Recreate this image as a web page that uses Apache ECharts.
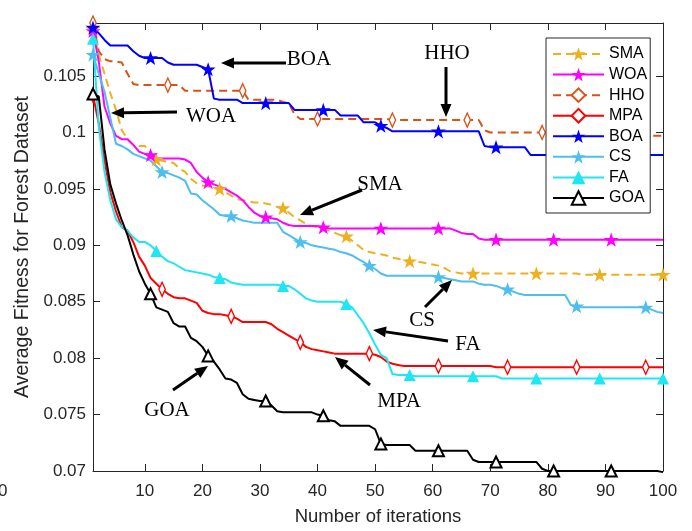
<!DOCTYPE html>
<html><head><meta charset="utf-8">
<script src="https://cdn.jsdelivr.net/npm/echarts@6/dist/echarts.min.js"></script>
<style>html,body{margin:0;padding:0;background:#fff}#c{width:692px;height:531px}</style>
</head><body><div id="c"></div>
<script>
const seriesNames = ['SMA','WOA','HHO','MPA','BOA','CS','FA','GOA'];
const xTicks = [10,20,30,40,50,60,70,80,90,100];
const yTicks = [0.07,0.075,0.08,0.085,0.09,0.095,0.1,0.105];
const yTickLabels = ['0.07','0.075','0.08','0.085','0.09','0.095','0.1','0.105'];

const SMA = [0.1092,0.1069,0.1052,0.1035,0.1020,0.1002,0.0994,0.0989,0.0988,0.0988,
0.0983,0.0976,0.0975,0.0974,0.0973,0.0968,0.0965,0.0959,0.0955,0.0953,
0.0952,0.0951,0.0950,0.0947,0.0944,0.0941,0.0940,0.0939,0.0938,0.0938,
0.0937,0.0936,0.0934,0.0933,0.0929,0.0925,0.0922,0.0919,0.0917,0.0916,
0.0915,0.0913,0.0911,0.0909,0.0908,0.0904,0.0900,0.0896,0.0894,0.0893,
0.0892,0.0891,0.0889,0.0888,0.0887,0.0886,0.0886,0.0885,0.0884,0.0883,
0.0882,0.0880,0.0877,0.0876,0.0875,0.0875,0.0875,0.0875,0.0875,0.0875,
0.0875,0.0875,0.0875,0.0875,0.0875,0.0875,0.0875,0.0875,0.0875,0.0875,
0.0875,0.0875,0.0875,0.0875,0.0875,0.0874,0.0874,0.0874,0.0874,0.0874,
0.0874,0.0874,0.0874,0.0874,0.0874,0.0874,0.0874,0.0874,0.0874,0.0874];

const WOA = [0.1090,0.1063,0.1023,0.1008,0.0997,0.0994,0.0994,0.0989,0.0983,0.0981,
0.0980,0.0977,0.0977,0.0977,0.0977,0.0977,0.0976,0.0973,0.0965,0.0960,
0.0956,0.0954,0.0952,0.0950,0.0947,0.0944,0.0940,0.0934,0.0929,0.0926,
0.0925,0.0924,0.0923,0.0920,0.0918,0.0917,0.0917,0.0917,0.0917,0.0917,
0.0916,0.0915,0.0915,0.0915,0.0915,0.0915,0.0915,0.0915,0.0915,0.0915,
0.0915,0.0915,0.0915,0.0915,0.0915,0.0915,0.0915,0.0915,0.0915,0.0915,
0.0915,0.0915,0.0915,0.0913,0.0911,0.0910,0.0910,0.0906,0.0905,0.0905,
0.0905,0.0905,0.0905,0.0905,0.0905,0.0905,0.0905,0.0905,0.0905,0.0905,
0.0905,0.0905,0.0905,0.0905,0.0905,0.0905,0.0905,0.0905,0.0905,0.0905,
0.0905,0.0905,0.0905,0.0905,0.0905,0.0905,0.0905,0.0905,0.0905,0.0905];

const HHO = [0.1097,0.1072,0.1065,0.1063,0.1063,0.1062,0.1052,0.1043,0.1042,0.1042,
0.1042,0.1042,0.1042,0.1042,0.1042,0.1042,0.1037,0.1037,0.1037,0.1037,
0.1037,0.1037,0.1037,0.1037,0.1037,0.1037,0.1037,0.1029,0.1029,0.1029,
0.1029,0.1029,0.1029,0.1027,0.1026,0.1016,0.1012,0.1012,0.1012,0.1012,
0.1012,0.1012,0.1012,0.1012,0.1012,0.1012,0.1012,0.1012,0.1012,0.1012,
0.1012,0.1012,0.1011,0.1011,0.1011,0.1011,0.1011,0.1011,0.1011,0.1011,
0.1011,0.1011,0.1011,0.1011,0.1011,0.1011,0.1011,0.1011,0.1002,0.1000,
0.1000,0.1000,0.1000,0.1000,0.1000,0.1000,0.1000,0.1000,0.1000,0.1000,
0.1000,0.1000,0.1000,0.1000,0.1000,0.1000,0.1000,0.0998,0.0998,0.0998,
0.0998,0.0998,0.0998,0.0998,0.0998,0.0997,0.0997,0.0997,0.0997,0.0997];

const MPA = [0.1033,0.1008,0.0975,0.0947,0.0930,0.0916,0.0913,0.0903,0.0890,0.0882,
0.0871,0.0866,0.0861,0.0857,0.0854,0.0853,0.0853,0.0851,0.0849,0.0842,
0.0840,0.0839,0.0839,0.0838,0.0837,0.0835,0.0832,0.0832,0.0832,0.0832,
0.0832,0.0830,0.0826,0.0823,0.0820,0.0817,0.0814,0.0810,0.0808,0.0807,
0.0806,0.0805,0.0804,0.0804,0.0804,0.0804,0.0804,0.0804,0.0804,0.0803,
0.0801,0.0797,0.0795,0.0794,0.0793,0.0793,0.0793,0.0793,0.0793,0.0793,
0.0793,0.0793,0.0793,0.0793,0.0793,0.0793,0.0793,0.0793,0.0793,0.0793,
0.0792,0.0792,0.0792,0.0792,0.0792,0.0792,0.0792,0.0792,0.0792,0.0792,
0.0792,0.0792,0.0792,0.0792,0.0792,0.0792,0.0792,0.0792,0.0792,0.0792,
0.0792,0.0792,0.0792,0.0792,0.0792,0.0792,0.0792,0.0792,0.0792,0.0792];

const BOA = [0.1093,0.1088,0.1082,0.1077,0.1077,0.1077,0.1077,0.1072,0.1068,0.1066,
0.1066,0.1066,0.1066,0.1062,0.1060,0.1060,0.1060,0.1060,0.1060,0.1058,
0.1056,0.1030,0.1029,0.1029,0.1029,0.1029,0.1026,0.1026,0.1026,0.1026,
0.1026,0.1026,0.1026,0.1026,0.1026,0.1020,0.1020,0.1020,0.1020,0.1020,
0.1020,0.1020,0.1020,0.1015,0.1015,0.1015,0.1015,0.1009,0.1009,0.1009,
0.1006,0.1004,0.1001,0.1001,0.1001,0.1001,0.1001,0.1001,0.1001,0.1001,
0.1001,0.1001,0.1001,0.1001,0.1001,0.1001,0.1001,0.1001,0.0988,0.0987,
0.0987,0.0987,0.0987,0.0987,0.0987,0.0987,0.0980,0.0980,0.0980,0.0980,
0.0980,0.0980,0.0980,0.0980,0.0980,0.0980,0.0980,0.0980,0.0980,0.0980,
0.0980,0.0980,0.0980,0.0980,0.0980,0.0980,0.0980,0.0980,0.0980,0.0980];

const CS = [0.1069,0.1052,0.1036,0.1013,0.0990,0.0988,0.0985,0.0981,0.0979,0.0977,
0.0975,0.0970,0.0965,0.0964,0.0962,0.0960,0.0957,0.0946,0.0945,0.0940,
0.0936,0.0932,0.0927,0.0926,0.0926,0.0924,0.0922,0.0921,0.0920,0.0920,
0.0920,0.0920,0.0920,0.0912,0.0909,0.0906,0.0903,0.0902,0.0900,0.0899,
0.0898,0.0897,0.0896,0.0894,0.0893,0.0891,0.0888,0.0885,0.0882,0.0879,
0.0875,0.0873,0.0873,0.0873,0.0873,0.0873,0.0873,0.0873,0.0873,0.0873,
0.0872,0.0871,0.0870,0.0869,0.0868,0.0868,0.0868,0.0866,0.0865,0.0865,
0.0864,0.0862,0.0861,0.0859,0.0857,0.0856,0.0856,0.0856,0.0856,0.0856,
0.0856,0.0856,0.0856,0.0847,0.0846,0.0845,0.0845,0.0845,0.0845,0.0845,
0.0845,0.0845,0.0845,0.0845,0.0845,0.0845,0.0845,0.0843,0.0841,0.0840];

const FA = [0.1083,0.1005,0.0965,0.0940,0.0923,0.0916,0.0913,0.0907,0.0903,0.0903,
0.0900,0.0895,0.0890,0.0886,0.0884,0.0881,0.0878,0.0877,0.0876,0.0875,
0.0874,0.0872,0.0871,0.0870,0.0867,0.0866,0.0865,0.0865,0.0865,0.0865,
0.0865,0.0865,0.0865,0.0864,0.0864,0.0861,0.0857,0.0853,0.0851,0.0850,
0.0850,0.0850,0.0850,0.0850,0.0848,0.0845,0.0838,0.0831,0.0822,0.0812,
0.0803,0.0800,0.0786,0.0785,0.0785,0.0785,0.0784,0.0784,0.0784,0.0784,
0.0784,0.0784,0.0784,0.0784,0.0784,0.0784,0.0784,0.0784,0.0784,0.0784,
0.0784,0.0782,0.0782,0.0782,0.0782,0.0782,0.0782,0.0782,0.0782,0.0782,
0.0782,0.0782,0.0782,0.0782,0.0782,0.0782,0.0782,0.0782,0.0782,0.0782,
0.0782,0.0782,0.0782,0.0782,0.0782,0.0782,0.0782,0.0782,0.0782,0.0782];

const GOA = [0.1034,0.1032,0.0985,0.0954,0.0937,0.0922,0.0909,0.0892,0.0877,0.0866,
0.0857,0.0845,0.0843,0.0841,0.0831,0.0828,0.0828,0.0818,0.0815,0.0810,
0.0802,0.0797,0.0790,0.0782,0.0781,0.0778,0.0768,0.0764,0.0763,0.0762,
0.0762,0.0758,0.0753,0.0752,0.0752,0.0752,0.0752,0.0752,0.0752,0.0750,
0.0749,0.0745,0.0744,0.0740,0.0740,0.0740,0.0740,0.0740,0.0740,0.0737,
0.0724,0.0723,0.0723,0.0723,0.0723,0.0723,0.0718,0.0718,0.0718,0.0718,
0.0718,0.0718,0.0718,0.0718,0.0718,0.0718,0.0710,0.0708,0.0708,0.0708,
0.0708,0.0708,0.0708,0.0708,0.0708,0.0708,0.0708,0.0708,0.0702,0.0700,
0.0700,0.0700,0.0700,0.0700,0.0700,0.0700,0.0700,0.0700,0.0700,0.0700,
0.0700,0.0700,0.0700,0.0700,0.0700,0.0700,0.0700,0.0700,0.0700,0.0699];

const markSMA = [1,12,23,34,45,56,67,78,89,100];
const markWOA = [1,11,21,31,41,51,61,71,81,91];
const markHHO = [1,14,27,40,53,66,79,92];
const markMPA = [1,13,25,37,49,61,73,85,97];
const markBOA = [1,11,21,31,41,51,61,71,81,91];
const markCS  = [1,13,25,37,49,61,73,85,97];
const markFA  = [1,12,23,34,45,56,67,78,89,100];
const markGOA = [1,11,21,31,41,51,61,71,81,91];

const STAR = 'path://M12,0L14.94,8.55L24,8.55L16.68,13.9L19.42,22.6L12,17.3L4.58,22.6L7.32,13.9L0,8.55L9.06,8.55Z';
const DIAMOND = 'path://M5,0L10,7L5,14L0,7Z';

function build(values, marks) {
  return values.map((v, k) => {
    const it = k + 1;
    const item = { value: [it, v] };
    if (marks.indexOf(it) < 0) item.symbol = 'none';
    return item;
  });
}

const styles = {
  SMA: { color:'#EDB120', dash:[8,5], symbol:STAR, size:15, fill:'#EDB120', bw:0 },
  WOA: { color:'#FF00FF', dash:'solid', symbol:STAR, size:15, fill:'#FF00FF', bw:0 },
  HHO: { color:'#D95319', dash:[8,5], symbol:DIAMOND, size:[9,14], fill:'#fff', bw:1.5 },
  MPA: { color:'#FF0000', dash:'solid', symbol:DIAMOND, size:[9,14], fill:'#fff', bw:1.5 },
  BOA: { color:'#0000FF', dash:'solid', symbol:STAR, size:15, fill:'#0000FF', bw:0 },
  CS:  { color:'#4DBEEE', dash:'solid', symbol:STAR, size:15, fill:'#4DBEEE', bw:0 },
  FA:  { color:'#1EE6F2', dash:'solid', symbol:'triangle', size:12, fill:'#1EE6F2', bw:0 },
  GOA: { color:'#000000', dash:'solid', symbol:'triangle', size:11, fill:'#fff', bw:2 }
};
const valuesBy = { SMA, WOA, HHO, MPA, BOA, CS, FA, GOA };
const marksBy = { SMA:markSMA, WOA:markWOA, HHO:markHHO, MPA:markMPA, BOA:markBOA, CS:markCS, FA:markFA, GOA:markGOA };

const series = seriesNames.map(n => {
  const s = styles[n];
  return {
    type:'line', name:n, data: build(valuesBy[n], marksBy[n]),
    symbol: s.symbol, symbolSize: s.size, symbolKeepAspect: true, showAllSymbol: true,
    lineStyle: { color: s.color, width: 2, type: s.dash },
    itemStyle: { color: s.fill, borderColor: s.color, borderWidth: s.bw },
    clip: false, silent: true, animation: false,
    emphasis: { disabled: true }
  };
});

const axisCol = '#262626';
function arrow(x1, y1, x2, y2) {
  const dx = x2 - x1, dy = y2 - y1, L = Math.hypot(dx, dy), ux = dx / L, uy = dy / L;
  const hl = 13, hw = 5.5, bx = x2 - ux * hl, by = y2 - uy * hl;
  return [
    { type:'line', z:100, shape:{ x1:x1, y1:y1, x2:bx, y2:by }, style:{ stroke:'#000', lineWidth:3 } },
    { type:'polygon', z:100, shape:{ points:[[x2,y2],[bx - uy*hw, by + ux*hw],[bx + uy*hw, by - ux*hw]] }, style:{ fill:'#000' } }
  ];
}
function label(t, x, y) {
  return { type:'text', z:100, x:x, y:y, style:{ text:t, fill:'#000', fontSize:21, fontFamily:'"Liberation Serif", "DejaVu Serif", serif', align:'center', verticalAlign:'middle' } };
}
const graphics = [].concat(
  [label('BOA', 309, 59)], arrow(286, 63, 221, 63),
  [label('HHO', 447, 53)], arrow(446, 67, 446, 117),
  [label('WOA', 211, 116)], arrow(177, 112, 111, 113),
  [label('SMA', 380, 184)], arrow(362, 190, 300, 215),
  [label('CS', 422, 320)], arrow(425, 307, 452, 280),
  [label('FA', 468, 344)], arrow(448, 341, 373, 330),
  [label('MPA', 399, 401)], arrow(370, 385, 335, 357),
  [label('GOA', 167, 410)], arrow(173, 390, 208, 366),
  [{ type:'text', x:-2, y:491, style:{ text:'0', fill:axisCol, fontSize:17, fontFamily:'"Liberation Sans", Arial, sans-serif', align:'left', verticalAlign:'middle' } }]
);

const chart = echarts.init(document.getElementById('c'), null, { renderer:'canvas' });
const fontSans = '"Liberation Sans", Arial, sans-serif';
chart.setOption({
  backgroundColor:'#fff',
  animation:false,
  grid:{ left:93, right:29, top:23, bottom:58, containLabel:false },
  xAxis:[{
    type:'value', min:1, max:100, position:'bottom',
    name:'Number of iterations', nameLocation:'middle', nameGap:36,
    nameTextStyle:{ fontFamily:fontSans, fontSize:18.5, color:axisCol },
    axisLine:{ show:true, lineStyle:{ color:axisCol, width:1 } },
    axisTick:{ show:true, inside:true, length:7, customValues:xTicks, lineStyle:{ color:axisCol } },
    axisLabel:{ show:true, margin:12, customValues:xTicks, fontFamily:fontSans, fontSize:17, color:axisCol },
    splitLine:{ show:false }
  },{
    type:'value', min:1, max:100, position:'top',
    axisLine:{ show:true, onZero:false, lineStyle:{ color:axisCol, width:1 } },
    axisTick:{ show:true, inside:true, length:7, customValues:xTicks, lineStyle:{ color:axisCol } },
    axisLabel:{ show:false }, splitLine:{ show:false }
  }],
  yAxis:[{
    type:'value', min:0.07, max:0.1097, position:'left',
    name:'Average Fitness for Forest Dataset', nameLocation:'middle', nameGap:53, nameRotate:90,
    nameTextStyle:{ fontFamily:fontSans, fontSize:19.5, color:axisCol },
    axisLine:{ show:true, lineStyle:{ color:axisCol, width:1 } },
    axisTick:{ show:true, inside:true, length:7, customValues:yTicks, lineStyle:{ color:axisCol } },
    axisLabel:{ show:true, margin:7, customValues:yTicks, fontFamily:fontSans, fontSize:17, color:axisCol,
      formatter:function(v){ const k = yTicks.findIndex(t => Math.abs(t - v) < 1e-7); return k >= 0 ? yTickLabels[k] : ''; } },
    splitLine:{ show:false }
  },{
    type:'value', min:0.07, max:0.1097, position:'right',
    axisLine:{ show:true, onZero:false, lineStyle:{ color:axisCol, width:1 } },
    axisTick:{ show:true, inside:true, length:7, customValues:yTicks, lineStyle:{ color:axisCol } },
    axisLabel:{ show:false }, splitLine:{ show:false }
  }],
  legend:{
    orient:'vertical', left:546, top:38, padding:[8,3,7,6],
    itemWidth:51, itemHeight:17, itemGap:4.57,
    backgroundColor:'#fff', borderColor:axisCol, borderWidth:1, borderRadius:0,
    textStyle:{ fontFamily:fontSans, fontSize:16, color:'#000' },
    data: seriesNames, selectedMode:false
  },
  series: series,
  graphic: graphics
});
</script></body></html>
